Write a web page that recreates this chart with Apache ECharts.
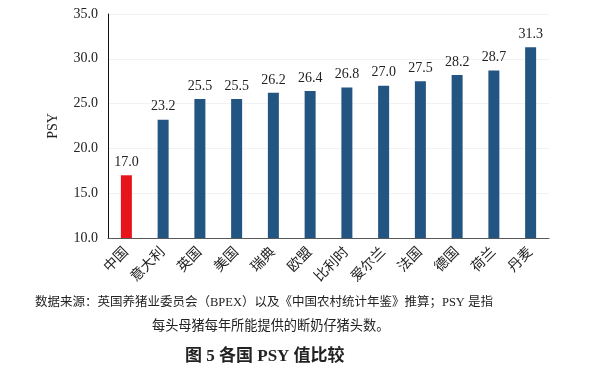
<!DOCTYPE html>
<html><head><meta charset="utf-8">
<script src="https://cdn.jsdelivr.net/npm/echarts@6/dist/echarts.min.js"></script>
<style>html,body{margin:0;padding:0;background:#fff}#c{width:590px;height:375px}</style>
</head><body><div id="c"></div>
<script>
var categories = ['中国','意大利','英国','美国','瑞典','欧盟','比利时','爱尔兰','法国','德国','荷兰','丹麦'];
var values = [17.0, 23.2, 25.5, 25.5, 26.2, 26.4, 26.8, 27.0, 27.5, 28.2, 28.7, 31.3];
var barColors = ['#e8141c','#235583','#235583','#235583','#235583','#235583','#235583','#235583','#235583','#235583','#235583','#235583'];
var noteLine1 = '数据来源：英国养猪业委员会（BPEX）以及《中国农村统计年鉴》推算；PSY 是指';
var noteLine2 = '每头母猪每年所能提供的断奶仔猪头数。';
var titleText = '图 5 各国 PSY 值比较';

var FONT = '"Liberation Serif","Times New Roman","Noto Sans CJK SC",serif';
var chart = echarts.init(document.getElementById('c'));
chart.setOption({
  animation: false,
  grid: {left: 108, right: 41, top: 14, bottom: 137},
  xAxis: {
    type: 'category', data: categories,
    axisLine: {lineStyle: {color: '#595959', width: 1}},
    axisTick: {show: false},
    axisLabel: {rotate: 45, color: '#222', fontFamily: FONT, fontSize: 14, margin: 12, interval: 0}
  },
  yAxis: {
    type: 'value', min: 10, max: 35, interval: 5,
    name: 'PSY', nameLocation: 'middle', nameGap: 48, nameRotate: 90,
    nameTextStyle: {color: '#222', fontFamily: FONT, fontSize: 14},
    axisLine: {show: true, lineStyle: {color: '#111', width: 1}},
    axisTick: {show: false},
    axisLabel: {color: '#222', fontFamily: FONT, fontSize: 14, margin: 10,
      formatter: function (v) { return v.toFixed(1); }},
    splitLine: {lineStyle: {color: '#f2f2f2'}}
  },
  series: [{
    type: 'bar', barWidth: 11,
    data: values.map(function (v, i) { return {value: v, itemStyle: {color: barColors[i]}}; }),
    label: {show: true, position: 'top', distance: 6, color: '#222', fontFamily: FONT, fontSize: 14,
      formatter: function (p) { return p.value.toFixed(1); }}
  }],
  graphic: [
    {type: 'text', left: 35, top: 296, style: {text: noteLine1, fill: '#222', font: '12.5px ' + FONT}},
    {type: 'text', left: 152, top: 320, style: {text: noteLine2, fill: '#222', font: '13.2px ' + FONT}},
    {type: 'text', left: 185, top: 348, style: {text: titleText, fill: '#222', font: 'bold 17px ' + FONT}}
  ]
});
</script></body></html>
